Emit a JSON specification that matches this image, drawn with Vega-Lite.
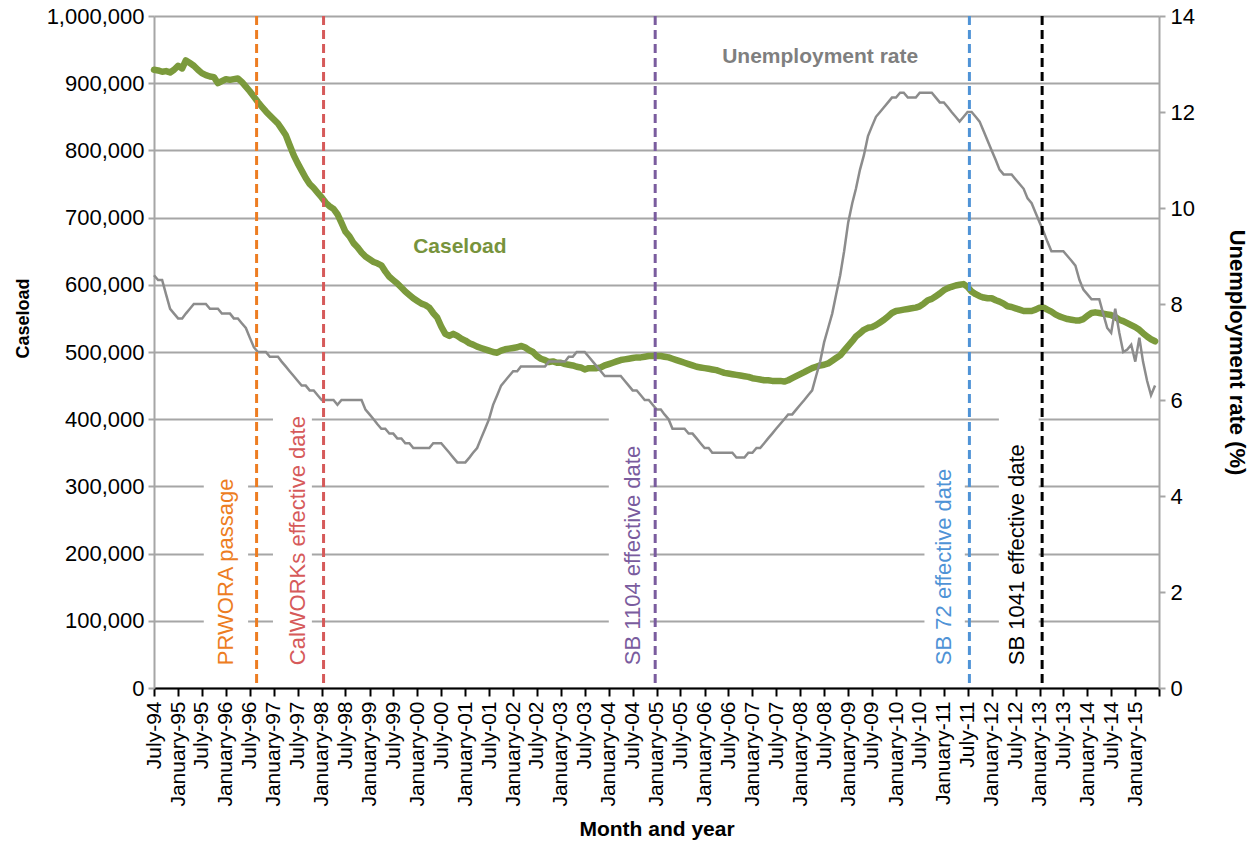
{
  "$schema": "https://vega.github.io/schema/vega-lite/v6.json",
  "width": 1005,
  "height": 672,
  "autosize": "none",
  "padding": {"left": 154, "top": 16, "right": 95, "bottom": 160},
  "background": "white",
  "config": {"font": "Liberation Sans", "view": {"stroke": null}},
  "datasets": {
    "series": [
      {"date":"1994-07-01","caseload":920000,"unemp":8.6},{"date":"1994-08-01","caseload":919000,"unemp":8.5},{"date":"1994-09-01","caseload":917000,"unemp":8.5},{"date":"1994-10-01","caseload":918000,"unemp":8.2},{"date":"1994-11-01","caseload":916000,"unemp":7.9},{"date":"1994-12-01","caseload":920000,"unemp":7.8},
      {"date":"1995-01-01","caseload":926000,"unemp":7.7},{"date":"1995-02-01","caseload":922000,"unemp":7.7},{"date":"1995-03-01","caseload":934000,"unemp":7.8},{"date":"1995-04-01","caseload":930000,"unemp":7.9},{"date":"1995-05-01","caseload":926000,"unemp":8.0},{"date":"1995-06-01","caseload":920000,"unemp":8.0},{"date":"1995-07-01","caseload":915000,"unemp":8.0},{"date":"1995-08-01","caseload":912000,"unemp":8.0},{"date":"1995-09-01","caseload":910000,"unemp":7.9},{"date":"1995-10-01","caseload":909000,"unemp":7.9},{"date":"1995-11-01","caseload":900000,"unemp":7.9},{"date":"1995-12-01","caseload":903000,"unemp":7.8},
      {"date":"1996-01-01","caseload":906000,"unemp":7.8},{"date":"1996-02-01","caseload":905000,"unemp":7.8},{"date":"1996-03-01","caseload":906000,"unemp":7.7},{"date":"1996-04-01","caseload":907000,"unemp":7.7},{"date":"1996-05-01","caseload":902000,"unemp":7.6},{"date":"1996-06-01","caseload":895000,"unemp":7.5},{"date":"1996-07-01","caseload":888000,"unemp":7.3},{"date":"1996-08-01","caseload":880000,"unemp":7.1},{"date":"1996-09-01","caseload":872000,"unemp":7.0},{"date":"1996-10-01","caseload":865000,"unemp":7.0},{"date":"1996-11-01","caseload":858000,"unemp":7.0},{"date":"1996-12-01","caseload":852000,"unemp":6.9},
      {"date":"1997-01-01","caseload":846000,"unemp":6.9},{"date":"1997-02-01","caseload":840000,"unemp":6.9},{"date":"1997-03-01","caseload":832000,"unemp":6.8},{"date":"1997-04-01","caseload":823000,"unemp":6.7},{"date":"1997-05-01","caseload":808000,"unemp":6.6},{"date":"1997-06-01","caseload":793000,"unemp":6.5},{"date":"1997-07-01","caseload":781000,"unemp":6.4},{"date":"1997-08-01","caseload":770000,"unemp":6.3},{"date":"1997-09-01","caseload":759000,"unemp":6.3},{"date":"1997-10-01","caseload":750000,"unemp":6.2},{"date":"1997-11-01","caseload":744000,"unemp":6.2},{"date":"1997-12-01","caseload":737000,"unemp":6.1},
      {"date":"1998-01-01","caseload":730000,"unemp":6.0},{"date":"1998-02-01","caseload":722000,"unemp":6.0},{"date":"1998-03-01","caseload":717000,"unemp":6.0},{"date":"1998-04-01","caseload":713000,"unemp":6.0},{"date":"1998-05-01","caseload":705000,"unemp":5.9},{"date":"1998-06-01","caseload":692000,"unemp":6.0},{"date":"1998-07-01","caseload":679000,"unemp":6.0},{"date":"1998-08-01","caseload":672000,"unemp":6.0},{"date":"1998-09-01","caseload":662000,"unemp":6.0},{"date":"1998-10-01","caseload":656000,"unemp":6.0},{"date":"1998-11-01","caseload":648000,"unemp":6.0},{"date":"1998-12-01","caseload":642000,"unemp":5.8},
      {"date":"1999-01-01","caseload":638000,"unemp":5.7},{"date":"1999-02-01","caseload":634000,"unemp":5.6},{"date":"1999-03-01","caseload":632000,"unemp":5.5},{"date":"1999-04-01","caseload":629000,"unemp":5.4},{"date":"1999-05-01","caseload":620000,"unemp":5.4},{"date":"1999-06-01","caseload":612000,"unemp":5.3},{"date":"1999-07-01","caseload":607000,"unemp":5.3},{"date":"1999-08-01","caseload":602000,"unemp":5.2},{"date":"1999-09-01","caseload":596000,"unemp":5.2},{"date":"1999-10-01","caseload":590000,"unemp":5.1},{"date":"1999-11-01","caseload":585000,"unemp":5.1},{"date":"1999-12-01","caseload":580000,"unemp":5.0},
      {"date":"2000-01-01","caseload":576000,"unemp":5.0},{"date":"2000-02-01","caseload":572000,"unemp":5.0},{"date":"2000-03-01","caseload":570000,"unemp":5.0},{"date":"2000-04-01","caseload":566000,"unemp":5.0},{"date":"2000-05-01","caseload":558000,"unemp":5.1},{"date":"2000-06-01","caseload":551000,"unemp":5.1},{"date":"2000-07-01","caseload":538000,"unemp":5.1},{"date":"2000-08-01","caseload":527000,"unemp":5.0},{"date":"2000-09-01","caseload":524000,"unemp":4.9},{"date":"2000-10-01","caseload":527000,"unemp":4.8},{"date":"2000-11-01","caseload":524000,"unemp":4.7},{"date":"2000-12-01","caseload":520000,"unemp":4.7},
      {"date":"2001-01-01","caseload":517000,"unemp":4.7},{"date":"2001-02-01","caseload":513000,"unemp":4.8},{"date":"2001-03-01","caseload":511000,"unemp":4.9},{"date":"2001-04-01","caseload":508000,"unemp":5.0},{"date":"2001-05-01","caseload":506000,"unemp":5.2},{"date":"2001-06-01","caseload":504000,"unemp":5.4},{"date":"2001-07-01","caseload":502000,"unemp":5.6},{"date":"2001-08-01","caseload":500000,"unemp":5.9},{"date":"2001-09-01","caseload":499000,"unemp":6.1},{"date":"2001-10-01","caseload":502000,"unemp":6.3},{"date":"2001-11-01","caseload":504000,"unemp":6.4},{"date":"2001-12-01","caseload":505000,"unemp":6.5},
      {"date":"2002-01-01","caseload":506000,"unemp":6.6},{"date":"2002-02-01","caseload":507000,"unemp":6.6},{"date":"2002-03-01","caseload":509000,"unemp":6.7},{"date":"2002-04-01","caseload":507000,"unemp":6.7},{"date":"2002-05-01","caseload":503000,"unemp":6.7},{"date":"2002-06-01","caseload":500000,"unemp":6.7},{"date":"2002-07-01","caseload":494000,"unemp":6.7},{"date":"2002-08-01","caseload":490000,"unemp":6.7},{"date":"2002-09-01","caseload":488000,"unemp":6.7},{"date":"2002-10-01","caseload":485000,"unemp":6.8},{"date":"2002-11-01","caseload":486000,"unemp":6.8},{"date":"2002-12-01","caseload":484000,"unemp":6.8},
      {"date":"2003-01-01","caseload":484000,"unemp":6.8},{"date":"2003-02-01","caseload":482000,"unemp":6.8},{"date":"2003-03-01","caseload":481000,"unemp":6.9},{"date":"2003-04-01","caseload":480000,"unemp":6.9},{"date":"2003-05-01","caseload":478000,"unemp":7.0},{"date":"2003-06-01","caseload":477000,"unemp":7.0},{"date":"2003-07-01","caseload":474000,"unemp":7.0},{"date":"2003-08-01","caseload":476000,"unemp":6.9},{"date":"2003-09-01","caseload":476000,"unemp":6.8},{"date":"2003-10-01","caseload":476000,"unemp":6.7},{"date":"2003-11-01","caseload":477000,"unemp":6.6},{"date":"2003-12-01","caseload":480000,"unemp":6.5},
      {"date":"2004-01-01","caseload":482000,"unemp":6.5},{"date":"2004-02-01","caseload":484000,"unemp":6.5},{"date":"2004-03-01","caseload":486000,"unemp":6.5},{"date":"2004-04-01","caseload":488000,"unemp":6.5},{"date":"2004-05-01","caseload":489000,"unemp":6.4},{"date":"2004-06-01","caseload":490000,"unemp":6.3},{"date":"2004-07-01","caseload":491000,"unemp":6.2},{"date":"2004-08-01","caseload":492000,"unemp":6.2},{"date":"2004-09-01","caseload":492000,"unemp":6.1},{"date":"2004-10-01","caseload":493000,"unemp":6.0},{"date":"2004-11-01","caseload":494000,"unemp":6.0},{"date":"2004-12-01","caseload":494000,"unemp":5.9},
      {"date":"2005-01-01","caseload":494000,"unemp":5.8},{"date":"2005-02-01","caseload":494000,"unemp":5.8},{"date":"2005-03-01","caseload":493000,"unemp":5.7},{"date":"2005-04-01","caseload":492000,"unemp":5.6},{"date":"2005-05-01","caseload":490000,"unemp":5.4},{"date":"2005-06-01","caseload":488000,"unemp":5.4},{"date":"2005-07-01","caseload":486000,"unemp":5.4},{"date":"2005-08-01","caseload":484000,"unemp":5.4},{"date":"2005-09-01","caseload":482000,"unemp":5.3},{"date":"2005-10-01","caseload":480000,"unemp":5.3},{"date":"2005-11-01","caseload":478000,"unemp":5.2},{"date":"2005-12-01","caseload":477000,"unemp":5.1},
      {"date":"2006-01-01","caseload":476000,"unemp":5.0},{"date":"2006-02-01","caseload":475000,"unemp":5.0},{"date":"2006-03-01","caseload":474000,"unemp":4.9},{"date":"2006-04-01","caseload":473000,"unemp":4.9},{"date":"2006-05-01","caseload":471000,"unemp":4.9},{"date":"2006-06-01","caseload":469000,"unemp":4.9},{"date":"2006-07-01","caseload":468000,"unemp":4.9},{"date":"2006-08-01","caseload":467000,"unemp":4.9},{"date":"2006-09-01","caseload":466000,"unemp":4.8},{"date":"2006-10-01","caseload":465000,"unemp":4.8},{"date":"2006-11-01","caseload":464000,"unemp":4.8},{"date":"2006-12-01","caseload":463000,"unemp":4.9},
      {"date":"2007-01-01","caseload":461000,"unemp":4.9},{"date":"2007-02-01","caseload":460000,"unemp":5.0},{"date":"2007-03-01","caseload":459000,"unemp":5.0},{"date":"2007-04-01","caseload":458000,"unemp":5.1},{"date":"2007-05-01","caseload":458000,"unemp":5.2},{"date":"2007-06-01","caseload":457000,"unemp":5.3},{"date":"2007-07-01","caseload":457000,"unemp":5.4},{"date":"2007-08-01","caseload":457000,"unemp":5.5},{"date":"2007-09-01","caseload":456000,"unemp":5.6},{"date":"2007-10-01","caseload":458000,"unemp":5.7},{"date":"2007-11-01","caseload":461000,"unemp":5.7},{"date":"2007-12-01","caseload":464000,"unemp":5.8},
      {"date":"2008-01-01","caseload":467000,"unemp":5.9},{"date":"2008-02-01","caseload":470000,"unemp":6.0},{"date":"2008-03-01","caseload":473000,"unemp":6.1},{"date":"2008-04-01","caseload":476000,"unemp":6.2},{"date":"2008-05-01","caseload":478000,"unemp":6.5},{"date":"2008-06-01","caseload":480000,"unemp":6.8},{"date":"2008-07-01","caseload":481000,"unemp":7.2},{"date":"2008-08-01","caseload":483000,"unemp":7.5},{"date":"2008-09-01","caseload":487000,"unemp":7.8},{"date":"2008-10-01","caseload":491000,"unemp":8.2},{"date":"2008-11-01","caseload":495000,"unemp":8.6},{"date":"2008-12-01","caseload":502000,"unemp":9.1},
      {"date":"2009-01-01","caseload":509000,"unemp":9.7},{"date":"2009-02-01","caseload":516000,"unemp":10.1},{"date":"2009-03-01","caseload":523000,"unemp":10.4},{"date":"2009-04-01","caseload":528000,"unemp":10.8},{"date":"2009-05-01","caseload":533000,"unemp":11.1},{"date":"2009-06-01","caseload":536000,"unemp":11.5},{"date":"2009-07-01","caseload":537000,"unemp":11.7},{"date":"2009-08-01","caseload":540000,"unemp":11.9},{"date":"2009-09-01","caseload":544000,"unemp":12.0},{"date":"2009-10-01","caseload":548000,"unemp":12.1},{"date":"2009-11-01","caseload":553000,"unemp":12.2},{"date":"2009-12-01","caseload":558000,"unemp":12.3},
      {"date":"2010-01-01","caseload":561000,"unemp":12.3},{"date":"2010-02-01","caseload":562000,"unemp":12.4},{"date":"2010-03-01","caseload":563000,"unemp":12.4},{"date":"2010-04-01","caseload":564000,"unemp":12.3},{"date":"2010-05-01","caseload":565000,"unemp":12.3},{"date":"2010-06-01","caseload":566000,"unemp":12.3},{"date":"2010-07-01","caseload":568000,"unemp":12.4},{"date":"2010-08-01","caseload":572000,"unemp":12.4},{"date":"2010-09-01","caseload":577000,"unemp":12.4},{"date":"2010-10-01","caseload":579000,"unemp":12.4},{"date":"2010-11-01","caseload":583000,"unemp":12.3},{"date":"2010-12-01","caseload":587000,"unemp":12.2},
      {"date":"2011-01-01","caseload":592000,"unemp":12.2},{"date":"2011-02-01","caseload":595000,"unemp":12.1},{"date":"2011-03-01","caseload":597000,"unemp":12.0},{"date":"2011-04-01","caseload":599000,"unemp":11.9},{"date":"2011-05-01","caseload":600000,"unemp":11.8},{"date":"2011-06-01","caseload":601000,"unemp":11.9},{"date":"2011-07-01","caseload":597000,"unemp":12.0},{"date":"2011-08-01","caseload":590000,"unemp":12.0},{"date":"2011-09-01","caseload":586000,"unemp":11.9},{"date":"2011-10-01","caseload":583000,"unemp":11.8},{"date":"2011-11-01","caseload":581000,"unemp":11.6},{"date":"2011-12-01","caseload":580000,"unemp":11.4},
      {"date":"2012-01-01","caseload":580000,"unemp":11.2},{"date":"2012-02-01","caseload":577000,"unemp":11.0},{"date":"2012-03-01","caseload":575000,"unemp":10.8},{"date":"2012-04-01","caseload":572000,"unemp":10.7},{"date":"2012-05-01","caseload":568000,"unemp":10.7},{"date":"2012-06-01","caseload":567000,"unemp":10.7},{"date":"2012-07-01","caseload":565000,"unemp":10.6},{"date":"2012-08-01","caseload":563000,"unemp":10.5},{"date":"2012-09-01","caseload":561000,"unemp":10.4},{"date":"2012-10-01","caseload":561000,"unemp":10.2},{"date":"2012-11-01","caseload":561000,"unemp":10.1},{"date":"2012-12-01","caseload":563000,"unemp":9.9},
      {"date":"2013-01-01","caseload":566000,"unemp":9.7},{"date":"2013-02-01","caseload":566000,"unemp":9.5},{"date":"2013-03-01","caseload":563000,"unemp":9.3},{"date":"2013-04-01","caseload":560000,"unemp":9.1},{"date":"2013-05-01","caseload":556000,"unemp":9.1},{"date":"2013-06-01","caseload":553000,"unemp":9.1},{"date":"2013-07-01","caseload":551000,"unemp":9.1},{"date":"2013-08-01","caseload":549000,"unemp":9.0},{"date":"2013-09-01","caseload":548000,"unemp":8.9},{"date":"2013-10-01","caseload":547000,"unemp":8.8},{"date":"2013-11-01","caseload":547000,"unemp":8.5},{"date":"2013-12-01","caseload":549000,"unemp":8.3},
      {"date":"2014-01-01","caseload":554000,"unemp":8.2},{"date":"2014-02-01","caseload":558000,"unemp":8.1},{"date":"2014-03-01","caseload":559000,"unemp":8.1},{"date":"2014-04-01","caseload":558000,"unemp":8.1},{"date":"2014-05-01","caseload":557000,"unemp":7.8},{"date":"2014-06-01","caseload":556000,"unemp":7.5},{"date":"2014-07-01","caseload":555000,"unemp":7.4},{"date":"2014-08-01","caseload":552000,"unemp":7.9},{"date":"2014-09-01","caseload":548000,"unemp":7.4},{"date":"2014-10-01","caseload":546000,"unemp":7.0},{"date":"2014-11-01","caseload":543000,"unemp":7.05},{"date":"2014-12-01","caseload":540000,"unemp":7.15},
      {"date":"2015-01-01","caseload":537000,"unemp":6.8},{"date":"2015-02-01","caseload":533000,"unemp":7.3},{"date":"2015-03-01","caseload":528000,"unemp":6.8},{"date":"2015-04-01","caseload":523000,"unemp":6.4},{"date":"2015-05-01","caseload":519000,"unemp":6.1},{"date":"2015-06-01","caseload":516000,"unemp":6.3}
    ],
    "events": [
      {"event":"PRWORA passage","date":"1996-08-22"},
      {"event":"CalWORKs effective date","date":"1998-01-15"},
      {"event":"SB 1104 effective date","date":"2004-12-20"},
      {"event":"SB 72 effective date","date":"2011-07-15"},
      {"event":"SB 1041 effective date","date":"2013-01-20"}
    ],
    "labels": [
      {"event":"PRWORA passage","date":"1996-01-01","caseload":34000},
      {"event":"CalWORKs effective date","date":"1997-07-01","caseload":34000},
      {"event":"SB 1104 effective date","date":"2004-07-01","caseload":34000},
      {"event":"SB 72 effective date","date":"2011-01-01","caseload":34000},
      {"event":"SB 1041 effective date","date":"2012-07-16","caseload":34000}
    ],
    "boxes": [
      {"event":"PRWORA passage","date":"1995-07-16","date2":"1996-06-18","caseload":20000,"caseload2":318000},
      {"event":"CalWORKs effective date","date":"1996-12-25","date2":"1997-10-18","caseload":20000,"caseload2":436000},
      {"event":"SB 1104 effective date","date":"2004-01-01","date2":"2004-11-10","caseload":20000,"caseload2":414000},
      {"event":"SB 72 effective date","date":"2010-08-06","date2":"2011-06-10","caseload":20000,"caseload2":395000},
      {"event":"SB 1041 effective date","date":"2012-02-25","date2":"2012-12-25","caseload":20000,"caseload2":414000}
    ]
  },
  "encoding": {
    "x": {
      "field": "date",
      "type": "temporal",
      "scale": {"type": "utc", "domain": [{"year": 1994, "month": 7, "date": 1, "utc": true}, {"year": 2015, "month": 7, "date": 1, "utc": true}]},
      "axis": {
        "title": "Month and year",
        "tickCount": {"interval": "month", "step": 6},
        "labelExpr": "datum.value >= utc(2015, 5, 1) ? '' : utcFormat(datum.value, '%B-%y')",
        "labelAngle": 270,
        "labelAlign": "right",
        "labelBaseline": "middle",
        "labelFontSize": 21,
        "labelColor": "#000000",
        "labelPadding": 5,
        "labelOverlap": false,
        "labelFlush": false,
        "labelBound": false,
        "tickColor": "#000000",
        "tickWidth": 2,
        "tickSize": 8,
        "domainColor": "#000000",
        "domainWidth": 2,
        "grid": false,
        "titleFontSize": 21,
        "titleFontWeight": "bold",
        "titleColor": "#000000",
        "titlePadding": 12
      }
    }
  },
  "layer": [
    {
      "layer": [
        {
          "data": {"name": "boxes"},
          "mark": {"type": "rect", "color": "#ffffff", "opacity": 1},
          "encoding": {
            "x2": {"field": "date2"},
            "y": {"field": "caseload", "type": "quantitative", "scale": {"domain": [0, 1000000]}, "title": "Caseload"},
            "y2": {"field": "caseload2"}
          }
        },
        {
          "data": {"name": "series"},
          "mark": {"type": "line", "color": "#7b9a3c", "strokeWidth": 6.5, "strokeJoin": "round", "strokeCap": "round"},
          "encoding": {
            "y": {
              "field": "caseload",
              "type": "quantitative",
              "scale": {"domain": [0, 1000000]},
              "title": "Caseload",
              "axis": {
                "values": [0, 100000, 200000, 300000, 400000, 500000, 600000, 700000, 800000, 900000, 1000000],
                "format": ",d",
                "labelFontSize": 22,
                "labelColor": "#000000",
                "labelPadding": 4,
                "grid": true,
                "gridColor": "#a6a6a6",
                "gridWidth": 2,
                "domainColor": "#a6a6a6",
                "domainWidth": 2,
                "tickColor": "#a6a6a6",
                "tickWidth": 2,
                "tickSize": 6,
                "titleFontSize": 18,
                "titleFontWeight": "bold",
                "titleColor": "#000000",
                "titlePadding": 14,
                "titleY": 302
              }
            }
          }
        },
        {
          "data": {"name": "labels"},
          "mark": {"type": "text", "angle": 270, "align": "left", "baseline": "middle", "fontSize": 22},
          "encoding": {
            "y": {"field": "caseload", "type": "quantitative", "title": "Caseload"},
            "text": {"field": "event"},
            "color": {
              "field": "event",
              "type": "nominal",
              "scale": {"domain": ["PRWORA passage", "CalWORKs effective date", "SB 1104 effective date", "SB 72 effective date", "SB 1041 effective date"], "range": ["#ed7d22", "#d65a5a", "#7a5c9e", "#4f93d6", "#000000"]},
              "legend": null
            }
          }
        },
        {
          "data": {"values": [{"date": "2000-11-20", "caseload": 656000, "text": "Caseload"}]},
          "mark": {"type": "text", "fontSize": 21, "fontWeight": "bold", "color": "#77933c", "baseline": "middle", "align": "center"},
          "encoding": {
            "y": {"field": "caseload", "type": "quantitative", "title": "Caseload"},
            "text": {"field": "text"}
          }
        },
        {
          "data": {"values": [{"date": "2008-06-01", "caseload": 939000, "text": "Unemployment rate"}]},
          "mark": {"type": "text", "fontSize": 21, "fontWeight": "bold", "color": "#7f7f7f", "baseline": "middle", "align": "center"},
          "encoding": {
            "y": {"field": "caseload", "type": "quantitative", "title": "Caseload"},
            "text": {"field": "text"}
          }
        }
      ]
    },
    {
      "data": {"name": "series"},
      "mark": {"type": "line", "color": "#8c8c8c", "strokeWidth": 2.5},
      "encoding": {
        "y": {
          "field": "unemp",
          "type": "quantitative",
          "scale": {"domain": [0, 14]},
          "title": "Unemployment rate (%)",
          "axis": {
            "orient": "right",
            "values": [0, 2, 4, 6, 8, 10, 12, 14],
            "labelFontSize": 22,
            "labelColor": "#000000",
            "labelPadding": 5,
            "grid": false,
            "domainColor": "#a6a6a6",
            "domainWidth": 2,
            "tickColor": "#a6a6a6",
            "tickWidth": 2,
            "tickSize": 6,
            "titleFontSize": 22,
            "titleFontWeight": "bold",
            "titleColor": "#000000",
            "titlePadding": 30
          }
        }
      }
    },
    {
      "data": {"name": "events"},
      "mark": {"type": "rule", "strokeDash": [9, 5], "strokeWidth": 3},
      "encoding": {
        "color": {
          "field": "event",
          "type": "nominal",
          "scale": {"domain": ["PRWORA passage", "CalWORKs effective date", "SB 1104 effective date", "SB 72 effective date", "SB 1041 effective date"], "range": ["#ed7d22", "#d65a5a", "#7a5c9e", "#4f93d6", "#000000"]},
          "legend": null
        }
      }
    }
  ],
  "resolve": {"scale": {"y": "independent", "color": "independent"}}
}
